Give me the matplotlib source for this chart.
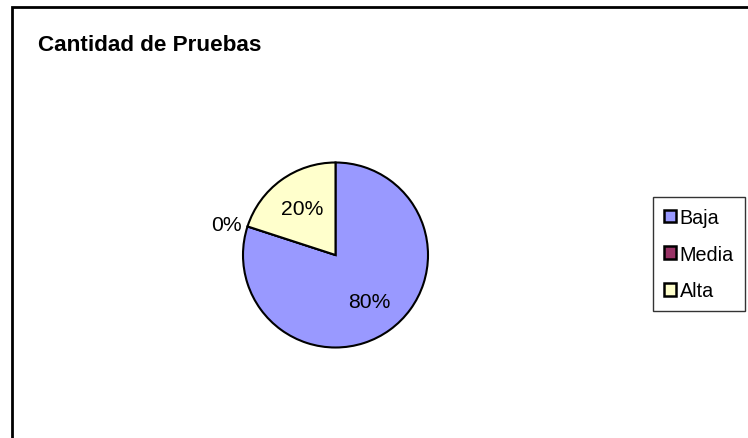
import matplotlib.pyplot as plt
from matplotlib.patches import Rectangle, Patch
import numpy as np

plt.rcParams['font.family'] = ['Liberation Sans', 'DejaVu Sans']

categorias = ['Baja', 'Media', 'Alta']
pruebas = [80, 0, 20]
colores = ['#9999FF', '#993366', '#FFFFCC']

W, H = 748, 439
fig = plt.figure(figsize=(W / 100, H / 100), dpi=100)

# marco exterior del grafico (sale por la derecha y por abajo)
fig.patches.append(Rectangle((12 / W, -0.1), 1.2, 1 - 8 / H + 0.1,
                             transform=fig.transFigure, fill=False,
                             edgecolor='black', linewidth=2.0))

fig.text(38 / W, 1 - 51 / H, 'Cantidad de Pruebas', fontsize=16.2,
         fontweight='bold', va='baseline', ha='left')

r = 92.5
cx, cy = 335.5, 256
ax = fig.add_axes([(cx - r) / W, (H - cy - r) / H, 2 * r / W, 2 * r / H])


def fmt(p):
    return '%.0f%%' % p if p > 0.5 else ''


wedges, textos, pcts = ax.pie(pruebas, colors=colores, startangle=90,
                              counterclock=False, autopct=fmt,
                              pctdistance=0.62,
                              wedgeprops=dict(edgecolor='black', linewidth=1.5),
                              textprops=dict(fontsize=15.2, color='black'))
ax.set_xlim(-1, 1)
ax.set_ylim(-1, 1)

# etiqueta de las porciones vacias, fuera del circulo
for w, v in zip(wedges, pruebas):
    if v == 0:
        ang = np.deg2rad(w.theta1)
        ax.text(1.07 * np.cos(ang), 1.07 * np.sin(ang), '0%',
                ha='right', va='center', fontsize=15.2, clip_on=False)

handles = [Patch(facecolor=c, edgecolor='black', linewidth=1.8) for c in colores]
leg = fig.legend(handles, categorias, loc='upper left',
                 bbox_to_anchor=(653 / W, 1 - 198 / H), fontsize=14.2,
                 frameon=True, fancybox=False, edgecolor='black',
                 handlelength=0.6, handleheight=0.6, handletextpad=0.2,
                 labelspacing=0.9, borderpad=0.55, borderaxespad=0)
leg.get_frame().set_linewidth(1.0)

fig.savefig('out.png', dpi=100)
